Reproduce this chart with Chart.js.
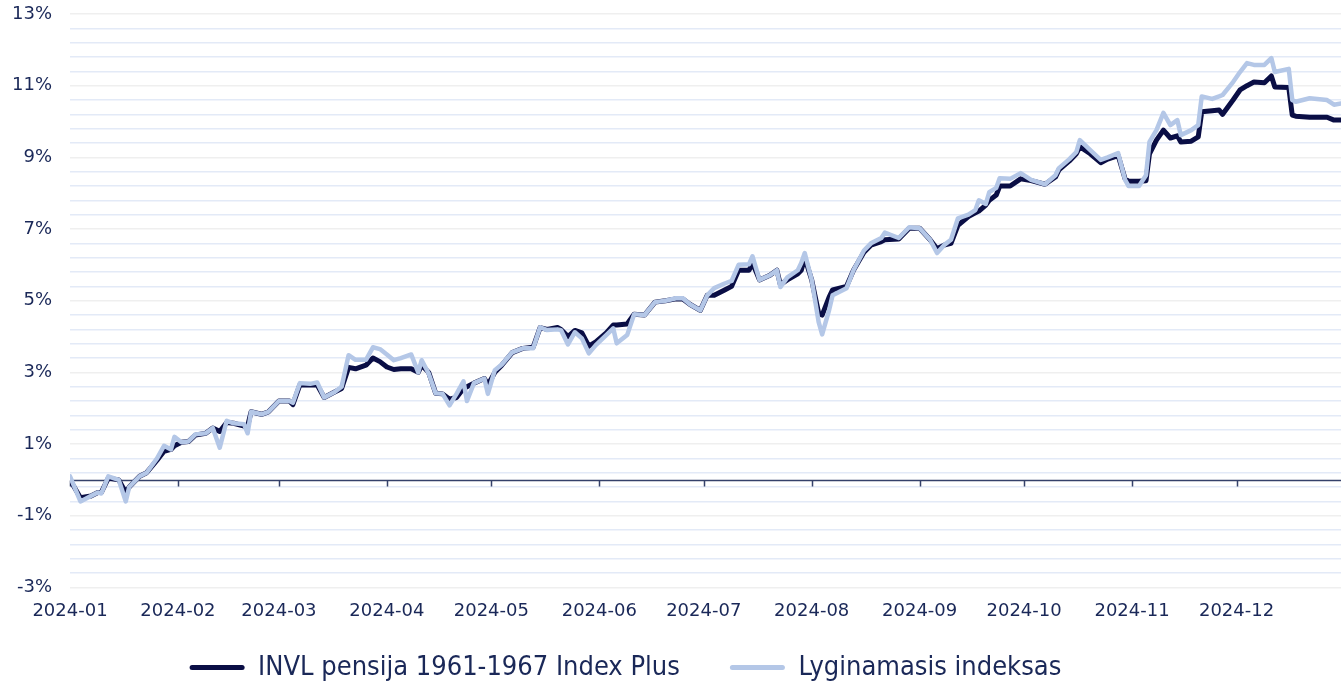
<!DOCTYPE html>
<html>
<head>
<meta charset="utf-8">
<script src="https://cdn.jsdelivr.net/npm/chart.js@4.4.0/dist/chart.umd.min.js"></script>
<style>
  html, body { margin: 0; padding: 0; background: #fff; }
  #wrap { width: 1341px; height: 682px; position: relative; }
</style>
</head>
<body>
<div id="wrap"><canvas id="chart"></canvas></div>
<script>
// series names
const seriesNames = ['INVL pensija 1961-1967 Index Plus', 'Lyginamasis indeksas'];

// x axis tick labels (month starts)
const monthTicks = ['2024-01', '2024-02', '2024-03', '2024-04', '2024-05', '2024-06',
  '2024-07', '2024-08', '2024-09', '2024-10', '2024-11', '2024-12'];

// y axis labelled ticks
const yTickLabels = [-3, -1, 1, 3, 5, 7, 9, 11, 13];

// dates of the points
const dates = [
  '2024-01-01', '2024-01-04', '2024-01-07', '2024-01-09', '2024-01-10', '2024-01-12', '2024-01-15', '2024-01-17', '2024-01-18', '2024-01-21',
  '2024-01-23', '2024-01-26', '2024-01-28', '2024-01-30', '2024-01-31', '2024-02-02', '2024-02-04', '2024-02-06', '2024-02-09', '2024-02-11',
  '2024-02-13', '2024-02-15', '2024-02-17', '2024-02-20', '2024-02-21', '2024-02-22', '2024-02-25', '2024-02-27', '2024-03-01', '2024-03-04',
  '2024-03-05', '2024-03-07', '2024-03-10', '2024-03-12', '2024-03-14', '2024-03-17', '2024-03-19', '2024-03-21', '2024-03-23', '2024-03-26',
  '2024-03-28', '2024-03-30', '2024-04-01', '2024-04-03', '2024-04-05', '2024-04-08', '2024-04-10', '2024-04-11', '2024-04-13', '2024-04-15',
  '2024-04-17', '2024-04-19', '2024-04-21', '2024-04-23', '2024-04-24', '2024-04-26', '2024-04-29', '2024-04-30', '2024-05-02', '2024-05-04',
  '2024-05-07', '2024-05-10', '2024-05-13', '2024-05-15', '2024-05-17', '2024-05-20', '2024-05-21', '2024-05-23', '2024-05-25', '2024-05-27',
  '2024-05-29', '2024-05-31', '2024-06-03', '2024-06-05', '2024-06-06', '2024-06-09', '2024-06-11', '2024-06-14', '2024-06-17', '2024-06-20',
  '2024-06-23', '2024-06-25', '2024-06-27', '2024-06-30', '2024-07-02', '2024-07-04', '2024-07-07', '2024-07-09', '2024-07-11', '2024-07-14',
  '2024-07-15', '2024-07-17', '2024-07-20', '2024-07-22', '2024-07-23', '2024-07-25', '2024-07-28', '2024-07-29', '2024-07-30', '2024-08-01',
  '2024-08-03', '2024-08-04', '2024-08-06', '2024-08-07', '2024-08-11', '2024-08-13', '2024-08-16', '2024-08-18', '2024-08-21', '2024-08-22',
  '2024-08-26', '2024-08-29', '2024-09-01', '2024-09-04', '2024-09-06', '2024-09-08', '2024-09-10', '2024-09-12', '2024-09-15', '2024-09-17',
  '2024-09-18', '2024-09-20', '2024-09-21', '2024-09-23', '2024-09-24', '2024-09-27', '2024-09-30', '2024-10-03', '2024-10-07', '2024-10-10',
  '2024-10-11', '2024-10-14', '2024-10-16', '2024-10-17', '2024-10-20', '2024-10-23', '2024-10-25', '2024-10-28', '2024-10-30', '2024-10-31',
  '2024-11-03', '2024-11-05', '2024-11-06', '2024-11-08', '2024-11-10', '2024-11-12', '2024-11-14', '2024-11-15', '2024-11-18', '2024-11-20',
  '2024-11-21', '2024-11-24', '2024-11-26', '2024-11-27', '2024-11-30', '2024-12-02', '2024-12-04', '2024-12-06', '2024-12-09', '2024-12-11',
  '2024-12-12', '2024-12-16', '2024-12-17', '2024-12-18', '2024-12-22', '2024-12-27', '2024-12-29', '2024-12-31'
];

// INVL pensija 1961-1967 Index Plus, %
const fundValues = [
  0.0, -0.5, -0.45, -0.35, -0.35, 0.05, 0.0, -0.35, -0.2, 0.1,
  0.2, 0.55, 0.8, 0.85, 0.95, 1.05, 1.07, 1.25, 1.3, 1.45,
  1.35, 1.6, 1.58, 1.5, 1.5, 1.9, 1.83, 1.9, 2.2, 2.2,
  2.1, 2.65, 2.65, 2.65, 2.3, 2.45, 2.55, 3.14, 3.1, 3.2,
  3.4, 3.3, 3.15, 3.08, 3.1, 3.1, 3.0, 3.2, 3.0, 2.42,
  2.4, 2.25, 2.3, 2.55, 2.6, 2.7, 2.83, 2.65, 3.0, 3.2,
  3.55, 3.67, 3.7, 4.25, 4.2, 4.25, 4.2, 4.0, 4.17, 4.1,
  3.73, 3.85, 4.1, 4.32, 4.32, 4.35, 4.62, 4.6, 4.96, 5.0,
  5.05, 5.05, 4.9, 4.73, 5.15, 5.15, 5.3, 5.4, 5.85, 5.85,
  6.05, 5.58, 5.71, 5.85, 5.45, 5.58, 5.75, 5.85, 6.2, 5.58,
  4.65, 4.6, 5.1, 5.3, 5.4, 5.85, 6.35, 6.55, 6.65, 6.7,
  6.72, 7.02, 7.02, 6.7, 6.45, 6.55, 6.6, 7.1, 7.35, 7.45,
  7.5, 7.67, 7.8, 7.95, 8.2, 8.2, 8.4, 8.35, 8.25, 8.45,
  8.65, 8.9, 9.1, 9.3, 9.1, 8.85, 8.95, 9.05, 8.4, 8.33,
  8.33, 8.35, 9.1, 9.48, 9.76, 9.54, 9.6, 9.43, 9.45, 9.57,
  10.27, 10.3, 10.32, 10.2, 10.6, 10.88, 11.0, 11.1, 11.08, 11.27,
  10.96, 10.95, 10.18, 10.15, 10.12, 10.12, 10.04, 10.04
];

// Lyginamasis indeksas, %
const indexValues = [
  0.1, -0.6, -0.45, -0.35, -0.38, 0.1, 0.0, -0.6, -0.2, 0.1,
  0.2, 0.6, 0.95, 0.85, 1.2, 1.05, 1.07, 1.27, 1.3, 1.45,
  0.9, 1.65, 1.58, 1.55, 1.3, 1.9, 1.83, 1.9, 2.2, 2.2,
  2.15, 2.7, 2.68, 2.72, 2.3, 2.45, 2.6, 3.48, 3.35, 3.35,
  3.7, 3.65, 3.5, 3.34, 3.4, 3.5, 3.0, 3.34, 2.97, 2.42,
  2.4, 2.08, 2.4, 2.75, 2.2, 2.7, 2.83, 2.4, 3.06, 3.22,
  3.56, 3.67, 3.67, 4.26, 4.18, 4.2, 4.18, 3.78, 4.12, 3.95,
  3.53, 3.76, 4.04, 4.23, 3.81, 4.04, 4.62, 4.6, 4.96, 5.0,
  5.07, 5.07, 4.9, 4.73, 5.15, 5.35, 5.48, 5.55, 6.0, 6.02,
  6.24, 5.58, 5.71, 5.85, 5.38, 5.65, 5.85, 6.05, 6.33, 5.58,
  4.4, 4.06, 4.74, 5.15, 5.35, 5.85, 6.4, 6.6, 6.75, 6.9,
  6.75, 7.05, 7.02, 6.7, 6.33, 6.55, 6.7, 7.3, 7.4, 7.53,
  7.8, 7.7, 8.03, 8.15, 8.42, 8.4, 8.56, 8.37, 8.25, 8.5,
  8.7, 8.95, 9.15, 9.48, 9.2, 8.93, 9.0, 9.12, 8.37, 8.2,
  8.2, 8.5, 9.43, 9.76, 10.24, 9.9, 10.04, 9.62, 9.76, 9.9,
  10.7, 10.63, 10.7, 10.74, 11.1, 11.38, 11.63, 11.58, 11.58, 11.77,
  11.38, 11.47, 10.6, 10.55, 10.65, 10.6, 10.47, 10.5
];

const textColor = '#1a2858';
const fundColor = '#0a0e45';
const indexColor = '#b4c7e7';

// days since Jan 1 2024, so the x axis can be a plain linear scale
const yearStart = Date.UTC(2024, 0, 1);
function dayOf(s) {
  const [y, m, d] = s.split('-').map(Number);
  return (Date.UTC(y, m - 1, d || 1) - yearStart) / 864e5;
}
const monthDays = monthTicks.map(m => dayOf(m));

// zero line with month tick marks
const zeroLine = {
  id: 'zeroLine',
  beforeDatasetsDraw(chart) {
    const { ctx, chartArea, scales: { x, y } } = chart;
    const y0 = Math.round(y.getPixelForValue(0)) + 0.5;
    ctx.save();
    ctx.strokeStyle = '#34406a';
    ctx.lineWidth = 1.5;
    ctx.beginPath();
    ctx.moveTo(chartArea.left, y0);
    ctx.lineTo(chartArea.right, y0);
    monthDays.forEach(d => {
      const px = Math.round(x.getPixelForValue(d)) + 0.5;
      ctx.moveTo(px, y0);
      ctx.lineTo(px, y0 + 6);
    });
    ctx.stroke();
    ctx.restore();
  }
};

// legend in the original sits left of centre and close under the axis labels
const legendShift = {
  id: 'legendShift',
  afterLayout(chart) {
    const lg = chart.legend;
    lg.right -= 90;
    lg.top -= 23;
    lg.bottom -= 23;
  }
};

Chart.defaults.font.family = '"DejaVu Sans", Verdana, sans-serif';
Chart.defaults.color = textColor;

new Chart(document.getElementById('chart'), {
  type: 'line',
  data: {
    datasets: [{
      label: seriesNames[0],
      data: dates.map((d, i) => ({ x: dayOf(d), y: fundValues[i] })),
      borderColor: fundColor,
      backgroundColor: fundColor,
      borderWidth: 5,
      order: 1
    }, {
      label: seriesNames[1],
      data: dates.map((d, i) => ({ x: dayOf(d), y: indexValues[i] })),
      borderColor: indexColor,
      backgroundColor: indexColor,
      borderWidth: 4.5,
      order: 0
    }]
  },
  options: {
    responsive: true,
    maintainAspectRatio: false,
    animation: false,
    layout: { padding: { top: 0, right: 0, bottom: -32, left: 0 } },
    elements: {
      point: { radius: 0 },
      line: { tension: 0, borderJoinStyle: 'round', borderCapStyle: 'round' }
    },
    scales: {
      x: {
        type: 'linear',
        min: 0,
        max: dayOf('2024-12-31'),
        grid: { display: false },
        border: { display: false },
        afterBuildTicks: scale => { scale.ticks = monthDays.map(v => ({ value: v })); },
        ticks: {
          autoSkip: false,
          maxRotation: 0,
          padding: 5,
          font: { size: 18 },
          callback: (v, i) => monthTicks[i]
        }
      },
      y: {
        min: -3,
        max: 13,
        afterFit: scale => {
          scale.width = 70;
          scale.paddingTop = 14;
          scale.paddingBottom = 11;
        },
        border: { display: false },
        grid: {
          drawTicks: false,
          lineWidth: 1.5,
          color: ctx => yTickLabels.some(t => Math.abs(t - ctx.tick.value) < 1e-6) ? '#efefef' : '#e3eaf7'
        },
        ticks: {
          stepSize: 0.4,
          autoSkip: false,
          padding: 18,
          font: { size: 18 },
          callback: v => {
            const t = yTickLabels.find(t => Math.abs(t - v) < 1e-6);
            return t === undefined ? '' : t + '%';
          }
        }
      }
    },
    plugins: {
      tooltip: { enabled: false },
      legend: {
        position: 'bottom',
        labels: {
          boxWidth: 55,
          boxHeight: 5,
          padding: 50,
          useBorderRadius: true,
          borderRadius: 2.5,
          color: textColor,
          font: { family: '"DejaVu Sans Condensed", "DejaVu Sans", sans-serif', size: 27 },
          generateLabels: chart => chart.data.datasets.map((ds, i) => ({
            text: ds.label,
            fillStyle: ds.borderColor,
            strokeStyle: ds.borderColor,
            lineWidth: 0,
            hidden: false,
            datasetIndex: i,
            fontColor: textColor,
            borderRadius: 2.5
          }))
        }
      }
    }
  },
  plugins: [zeroLine, legendShift]
});
</script>
</body>
</html>
